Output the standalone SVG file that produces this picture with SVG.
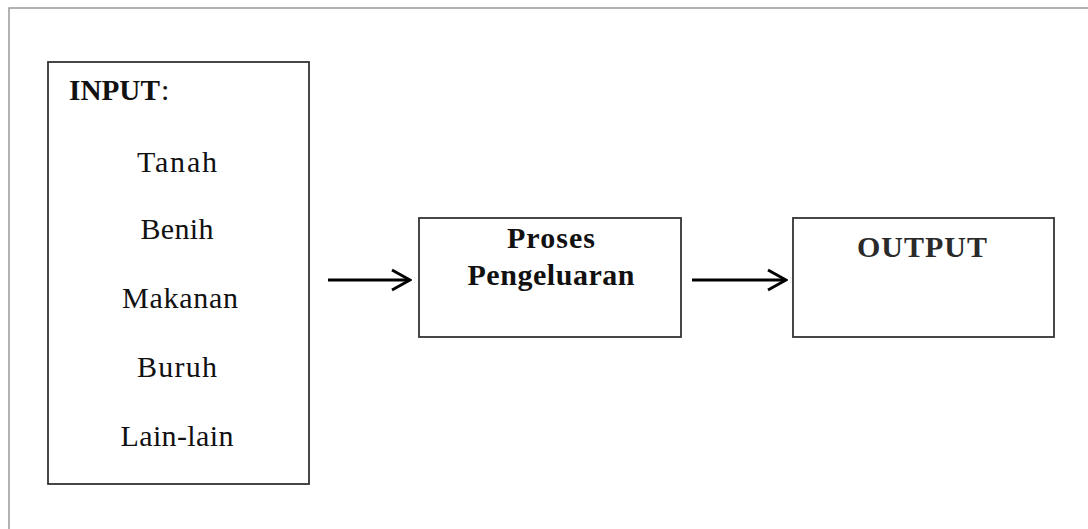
<svg xmlns="http://www.w3.org/2000/svg" width="1088" height="529" viewBox="0 0 1088 529">
<style>
.box{fill:#fff;stroke:#333;stroke-width:1.8}
.t{font-family:"Liberation Serif","Times New Roman",serif;font-size:30px;fill:#111}
.b{font-weight:bold}
.c{stroke:#000;stroke-width:2.8;fill:none}
</style>
<defs>
<marker id="arr" viewBox="0 0 22 24" refX="20" refY="12" markerWidth="22" markerHeight="24" markerUnits="userSpaceOnUse" orient="auto">
<path d="M2,2 L20,12 L2,22" fill="none" stroke="#000" stroke-width="2.8"/>
</marker>
</defs>
<rect width="1088" height="529" fill="#fff"/>
<path d="M9,529 V8 H1088" fill="none" stroke="#999" stroke-width="1.5"/>
<g id="input">
<rect class="box" x="48" y="62" width="261" height="422"/>
<text class="t b" x="69" y="100" textLength="91" lengthAdjust="spacingAndGlyphs">INPUT</text>
<text class="t" x="161" y="100">:</text>
<text class="t" x="177" y="172" text-anchor="middle" textLength="80">Tanah</text>
<text class="t" x="177" y="239" text-anchor="middle" textLength="73">Benih</text>
<text class="t" x="180" y="308" text-anchor="middle" textLength="116">Makanan</text>
<text class="t" x="177" y="377" text-anchor="middle" textLength="80">Buruh</text>
<text class="t" x="177" y="446" text-anchor="middle" textLength="113">Lain-lain</text>
</g>
<g id="proses">
<rect class="box" x="419" y="218" width="262" height="119"/>
<text class="t b" x="551" y="248" text-anchor="middle" textLength="88">Proses</text>
<text class="t b" x="551" y="285" text-anchor="middle" textLength="167">Pengeluaran</text>
</g>
<g id="output">
<rect class="box" x="793" y="218" width="261" height="119"/>
<text class="t" x="922" y="257" text-anchor="middle" textLength="130" style="font-weight:bold;fill:#2a2a2a">OUTPUT</text>
</g>
<g id="connectors">
<line class="c" x1="328" y1="280" x2="410" y2="280" marker-end="url(#arr)"/>
<line class="c" x1="692" y1="280" x2="786" y2="280" marker-end="url(#arr)"/>
</g>
</svg>
